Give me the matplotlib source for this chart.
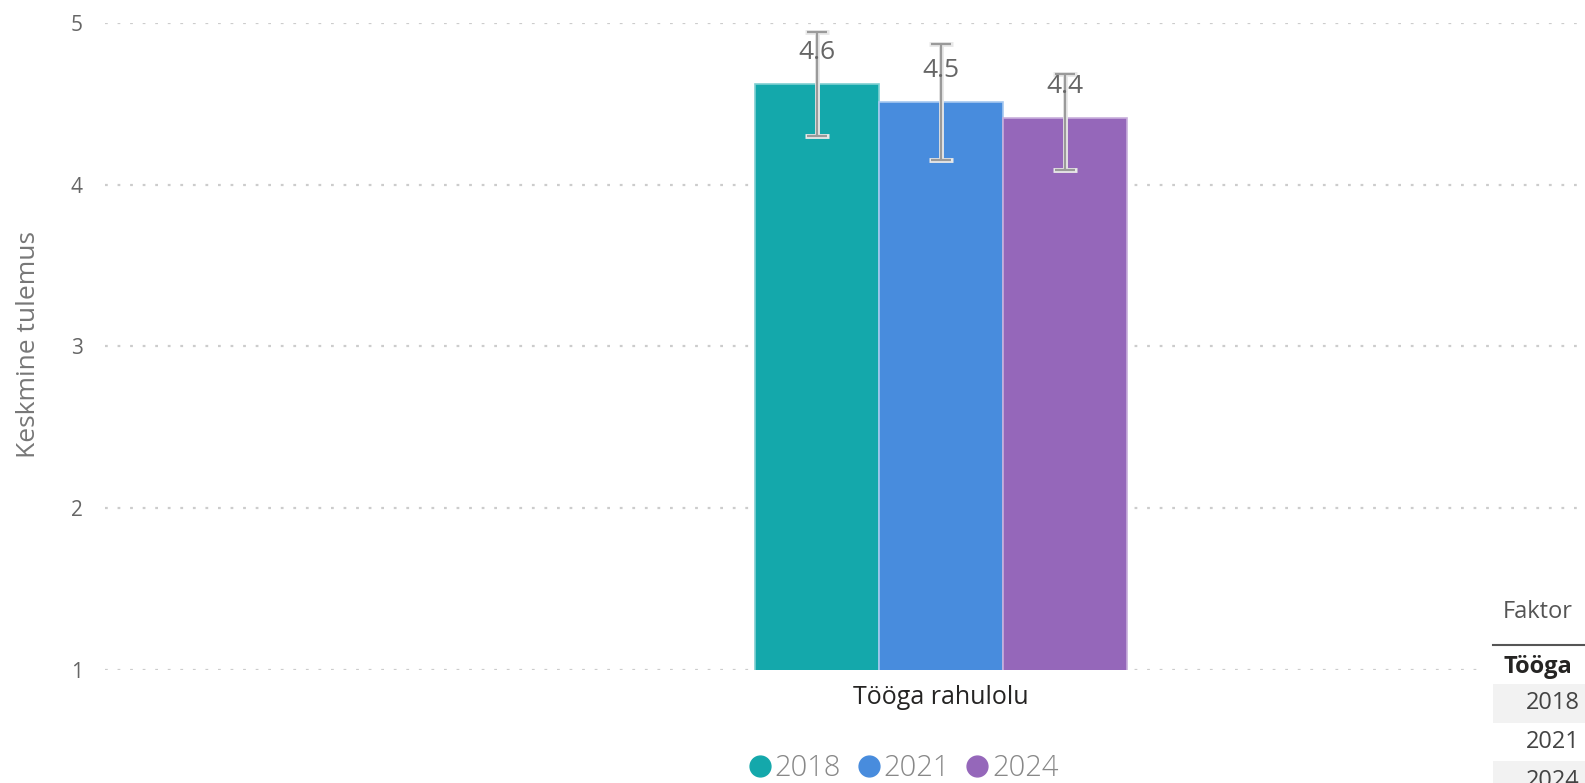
import numpy as np
import matplotlib.pyplot as plt
from matplotlib.lines import Line2D
from matplotlib.patches import Rectangle

# andmed
category = "Tööga rahulolu"
years = ["2018", "2021", "2024"]
values = [4.62, 4.51, 4.41]
err_low = [4.30, 4.15, 4.09]
err_high = [4.94, 4.87, 4.68]
value_labels = ["4.6", "4.5", "4.4"]
colors = ["#14A8AB", "#488CDD", "#9567BA"]
edge_colors = ["#7fd0d2", "#a6c8f0", "#c8afdc"]
yticks = [1, 2, 3, 4, 5]

plt.rcParams['font.family'] = ['Open Sans', 'DejaVu Sans']

W, H = 1585, 783
fig = plt.figure(figsize=(W / 100, H / 100), dpi=100)
ax = fig.add_axes([105 / W, 113 / H, 1 - 105 / W, (670 - 22.7) / H])

x = np.arange(len(years)) - 1  # positions within the group
bars = ax.bar(x, values, width=1.0, color=colors, edgecolor=edge_colors,
              linewidth=1.2, zorder=2)

lower = np.array(values) - np.array(err_low)
upper = np.array(err_high) - np.array(values)
# halo + line for error bars
ax.errorbar(x, values, yerr=[lower, upper], fmt='none', ecolor='#e8e8e8',
            elinewidth=3.5, capsize=8.5, capthick=3.5, zorder=3, clip_on=False)
ax.errorbar(x, values, yerr=[lower, upper], fmt='none', ecolor='#9a9a9a',
            elinewidth=1.6, capsize=7.5, capthick=1.6, zorder=4, clip_on=False)

for xi, v, lab in zip(x, values, value_labels):
    ax.annotate(lab, (xi, v), xytext=(0, 23), textcoords='offset points',
                ha='center', va='center', fontsize=19, color='#666666',
                zorder=5, annotation_clip=False)

ax.set_xlim(-(941 - 105) / 124, (1585 - 941) / 124)
ax.set_ylim(1, 5)
ax.set_yticks(yticks)
ax.set_xticks([0])
ax.set_xticklabels([category], fontsize=18, color='#252423')
ax.tick_params(axis='x', length=0, pad=11)
ax.tick_params(axis='y', length=0, pad=16, labelsize=15, labelcolor='#666666')
for s in ax.spines.values():
    s.set_visible(False)
ax.grid(axis='y', color='#cccccc', linestyle=(0, (1.25, 4.4)), linewidth=1.6, zorder=0)
ax.set_axisbelow(True)

fig.text(28.5 / W, 1 - 345 / H, "Keskmine tulemus", rotation=90, ha='center',
         va='center', fontsize=19, color='#777777')

# legend
handles = [Line2D([], [], marker='o', linestyle='none', markersize=15,
                  markerfacecolor=c, markeredgecolor=c) for c in colors]
leg = fig.legend(handles, years, loc='center', bbox_to_anchor=(902 / W, 1 - 768 / H),
                 ncol=3, frameon=False, fontsize=21, handletextpad=0.0,
                 columnspacing=0.45, handlelength=1.0, borderpad=0,
                 prop={'size': 21, 'weight': 'light'})
for t in leg.get_texts():
    t.set_color('#888888')

# osaliselt nähtav tabel paremal
fig.patches.append(Rectangle((1485 / W, 0), 100 / W, 1 - 590 / H, transform=fig.transFigure,
                             facecolor='white', edgecolor='none', zorder=5))
fig.text(1503 / W, 1 - 612 / H, "Faktor", ha='left', va='center', fontsize=17,
         color='#555555', zorder=6)
fig.add_artist(Line2D([1493 / W, 1], [1 - 645 / H, 1 - 645 / H], color='#555555',
                      linewidth=1.5, transform=fig.transFigure, zorder=6))
fig.text(1503 / W, 1 - 667 / H, "Tööga", ha='left', va='center', fontsize=17,
         fontweight='bold', color='#252423', zorder=6)
row_y = [703, 742, 781]
for i, (yr, yy) in enumerate(zip(years, row_y)):
    if i % 2 == 0:
        fig.patches.append(Rectangle((1493 / W, 1 - (yy + 19.5) / H), 92 / W, 39 / H,
                                     transform=fig.transFigure, facecolor='#f2f2f2',
                                     edgecolor='none', zorder=5.5))
    fig.text(1580 / W, 1 - yy / H, yr, ha='right', va='center', fontsize=17,
             color='#444444', zorder=6)

fig.savefig("out.png", dpi=100)
